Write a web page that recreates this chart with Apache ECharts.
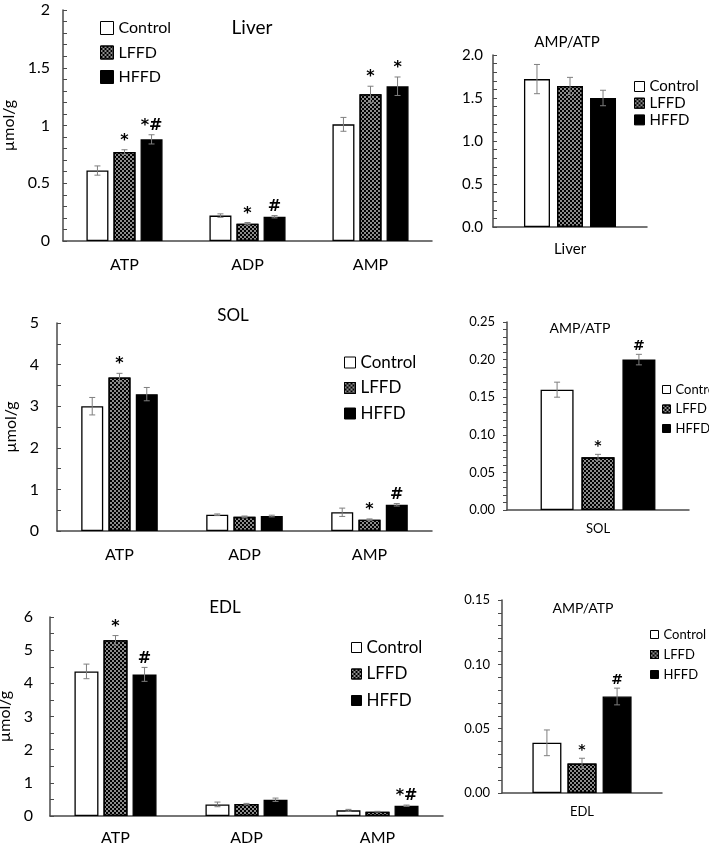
<!DOCTYPE html>
<html>
<head>
<meta charset="utf-8">
<script src="https://cdn.jsdelivr.net/npm/echarts@6.0.0/dist/echarts.min.js"></script>
<style>
html, body { margin: 0; padding: 0; background: #fff; }
#chart { width: 709px; height: 848px; }
</style>
</head>
<body>
<div id="chart"></div>
<script>
var groups = ['Control', 'LFFD', 'HFFD'];
var metabolites = ['ATP', 'ADP', 'AMP'];

// Liver (umol/g)
var liverControl = [0.61, 0.22, 1.01];
var liverControlErr = [0.04, 0.015, 0.06];
var liverLFFD = [0.77, 0.15, 1.27];
var liverLFFDErr = [0.02, 0.01, 0.07];
var liverHFFD = [0.88, 0.21, 1.34];
var liverHFFDErr = [0.04, 0.01, 0.08];
var liverLFFDMarks = ['*', '*', '*'];
var liverHFFDMarks = ['*#', '#', '*'];
// Liver AMP/ATP, order Control, LFFD, HFFD
var liverRatio = [1.72, 1.64, 1.50];
var liverRatioErr = [0.17, 0.10, 0.09];
var liverRatioMarks = ['', '', ''];

// SOL
var solControl = [3.00, 0.39, 0.45];
var solControlErr = [0.21, 0.02, 0.10];
var solLFFD = [3.69, 0.34, 0.27];
var solLFFDErr = [0.10, 0.02, 0.02];
var solHFFD = [3.29, 0.36, 0.63];
var solHFFDErr = [0.16, 0.02, 0.03];
var solLFFDMarks = ['*', '', '*'];
var solHFFDMarks = ['', '', '#'];
var solRatio = [0.16, 0.07, 0.20];
var solRatioErr = [0.01, 0.004, 0.007];
var solRatioMarks = ['', '*', '#'];

// EDL
var edlControl = [4.36, 0.35, 0.17];
var edlControlErr = [0.22, 0.07, 0.03];
var edlLFFD = [5.30, 0.36, 0.13];
var edlLFFDErr = [0.14, 0.02, 0.01];
var edlHFFD = [4.27, 0.49, 0.31];
var edlHFFDErr = [0.21, 0.05, 0.02];
var edlLFFDMarks = ['*', '', ''];
var edlHFFDMarks = ['#', '', '*#'];
var edlRatio = [0.039, 0.023, 0.075];
var edlRatioErr = [0.010, 0.004, 0.0065];
var edlRatioMarks = ['', '*', '#'];

var FONT = 'Lato, "Open Sans", sans-serif';
var MARK_FONT = '"DejaVu Sans", sans-serif';
var AXIS_COLOR = '#4a4a4a';
var noMarks = ['', '', ''];

var barStyles = [
	{ color: '#fff', borderColor: '#000', borderWidth: 1.3 },
	{ color: '#8c8c8c', borderColor: '#000', borderWidth: 1.3,
	  decal: { symbol: 'rect', symbolSize: 1, color: '#000', dashArrayX: [[2, 2], [0, 2, 2, 0]], dashArrayY: [2, 0] } },
	{ color: '#000', borderColor: '#000', borderWidth: 1.3 }
];

// one entry per panel: layout + which data goes in
var panels = [
	{ grid: { left: 63, top: 10, width: 369, height: 231 }, cats: metabolites,
	  vals: [liverControl, liverLFFD, liverHFFD], errs: [liverControlErr, liverLFFDErr, liverHFFDErr],
	  marks: [noMarks, liverLFFDMarks, liverHFFDMarks],
	  max: 2, interval: 0.5, minor: 5, tickInside: true, fs: 16, labelMargin: 13, catMargin: 16, digits: null,
	  barWidth: 22, barGap: '23%', markSize: 16, yName: 'µmol/g', nameGap: 38,
	  title: { text: 'Liver', x: 252, y: 18, size: 19 },
	  legend: { left: 100, top: 20, box: 13, size: 16, gap: 8.5 } },
	{ grid: { left: 493, top: 55, width: 154, height: 172 }, cats: ['Liver'],
	  vals: [[liverRatio[0]], [liverRatio[1]], [liverRatio[2]]],
	  errs: [[liverRatioErr[0]], [liverRatioErr[1]], [liverRatioErr[2]]],
	  marks: [[liverRatioMarks[0]], [liverRatioMarks[1]], [liverRatioMarks[2]]],
	  max: 2, interval: 0.5, minor: 5, tickInside: true, fs: 15, labelMargin: 10, catMargin: 15, digits: 1,
	  barWidth: 26, barGap: '27%', markSize: 15,
	  title: { text: 'AMP/ATP', x: 567, y: 35, size: 15 },
	  legend: { left: 634, top: 79, box: 10, size: 15, gap: 1.7 } },
	{ grid: { left: 57, top: 323, width: 375, height: 208 }, cats: metabolites,
	  vals: [solControl, solLFFD, solHFFD], errs: [solControlErr, solLFFDErr, solHFFDErr],
	  marks: [noMarks, solLFFDMarks, solHFFDMarks],
	  max: 5, interval: 1, minor: 2, tickInside: true, fs: 16, labelMargin: 18, catMargin: 16, digits: null,
	  barWidth: 22, barGap: '24%', markSize: 16, yName: 'µmol/g', nameGap: 34,
	  title: { text: 'SOL', x: 233, y: 307, size: 17 },
	  legend: { left: 344, top: 354, box: 11, size: 17, gap: 8.5 } },
	{ grid: { left: 507, top: 322, width: 182, height: 188 }, cats: ['SOL'],
	  vals: [[solRatio[0]], [solRatio[1]], [solRatio[2]]],
	  errs: [[solRatioErr[0]], [solRatioErr[1]], [solRatioErr[2]]],
	  marks: [[solRatioMarks[0]], [solRatioMarks[1]], [solRatioMarks[2]]],
	  max: 0.25, interval: 0.05, minor: 5, tickInside: false, fs: 13, labelMargin: 12, catMargin: 12, digits: 2,
	  barWidth: 33, barGap: '24%', markSize: 14,
	  title: { text: 'AMP/ATP', x: 580, y: 321, size: 14 },
	  legend: { left: 662, top: 383, box: 8, size: 13, gap: 6.5 } },
	{ grid: { left: 50, top: 617, width: 393, height: 199 }, cats: metabolites,
	  vals: [edlControl, edlLFFD, edlHFFD], errs: [edlControlErr, edlLFFDErr, edlHFFDErr],
	  marks: [noMarks, edlLFFDMarks, edlHFFDMarks],
	  max: 6, interval: 1, minor: 2, tickInside: true, fs: 16, labelMargin: 17, catMargin: 14, digits: null,
	  barWidth: 24, barGap: '21%', markSize: 16, yName: 'µmol/g', nameGap: 29,
	  title: { text: 'EDL', x: 225, y: 599, size: 17 },
	  legend: { left: 351, top: 639, box: 10, size: 17, gap: 9.5 } },
	{ grid: { left: 502, top: 600, width: 160, height: 193 }, cats: ['EDL'],
	  vals: [[edlRatio[0]], [edlRatio[1]], [edlRatio[2]]],
	  errs: [[edlRatioErr[0]], [edlRatioErr[1]], [edlRatioErr[2]]],
	  marks: [[edlRatioMarks[0]], [edlRatioMarks[1]], [edlRatioMarks[2]]],
	  max: 0.15, interval: 0.05, minor: 5, tickInside: false, fs: 13, labelMargin: 12, catMargin: 12, digits: 2,
	  barWidth: 29, barGap: '21%', markSize: 14,
	  title: { text: 'AMP/ATP', x: 583, y: 601, size: 14 },
	  legend: { left: 650, top: 628, box: 8, size: 13, gap: 7 } }
];

function makeErrRender(gi, bw, gap, marks, fs) {
	return function (params, api) {
		var cat = api.value(0), v = api.value(1), e = api.value(2);
		var dx = null;
		if (api.barLayout) {
			var lay = api.barLayout({ barWidth: bw, barGap: gap, count: 3 });
			if (lay && lay[gi]) dx = lay[gi].offsetCenter;
		}
		if (dx == null) dx = (gi - 1) * bw * (1 + parseFloat(gap) / 100);
		var hi = api.coord([cat, v + e]), lo = api.coord([cat, v - e]);
		var x = hi[0] + dx, cap = 3;
		var ls = { stroke: '#7f7f7f', lineWidth: 1 };
		var children = [
			{ type: 'line', shape: { x1: x, y1: hi[1], x2: x, y2: lo[1] }, style: ls },
			{ type: 'line', shape: { x1: x - cap, y1: hi[1], x2: x + cap, y2: hi[1] }, style: ls },
			{ type: 'line', shape: { x1: x - cap, y1: lo[1], x2: x + cap, y2: lo[1] }, style: ls }
		];
		var m = marks[params.dataIndex];
		if (m) {
			children.push({ type: 'text', x: x, y: hi[1] - 1,
				style: { text: m, align: 'center', verticalAlign: 'bottom', fontSize: fs, fontFamily: MARK_FONT, fontWeight: 'bold', fill: '#000' } });
		}
		return { type: 'group', children: children };
	};
}

var grids = [], xAxes = [], yAxes = [], series = [], titles = [], legends = [];
panels.forEach(function (p, pi) {
	grids.push({ left: p.grid.left, top: p.grid.top, width: p.grid.width, height: p.grid.height, outerBoundsMode: 'none' });
	xAxes.push({
		type: 'category', gridIndex: pi, data: p.cats,
		axisLine: { lineStyle: { color: AXIS_COLOR, width: 1.5 } },
		axisTick: { show: false },
		axisLabel: { fontSize: p.fs, margin: p.catMargin, color: '#000', fontFamily: FONT }
	});
	var digits = p.digits;
	yAxes.push({
		type: 'value', gridIndex: pi, min: 0, max: p.max, interval: p.interval,
		axisLine: { show: true, lineStyle: { color: AXIS_COLOR, width: 1.5 } },
		axisTick: { show: true, inside: p.tickInside, length: 4, lineStyle: { color: AXIS_COLOR } },
		minorTick: { show: true, splitNumber: p.minor, length: 4, lineStyle: { color: AXIS_COLOR } },
		splitLine: { show: false },
		axisLabel: { fontSize: p.fs, margin: p.labelMargin, color: '#000', fontFamily: FONT,
			formatter: function (v) { return digits == null ? String(+v.toFixed(2)) : v.toFixed(digits); } },
		name: p.yName || '', nameLocation: 'middle', nameGap: p.nameGap || 30,
		nameTextStyle: { fontSize: 16, color: '#000', fontFamily: FONT }
	});
	for (var gi = 0; gi < 3; gi++) {
		series.push({
			type: 'bar', name: groups[gi], xAxisIndex: pi, yAxisIndex: pi,
			data: p.vals[gi], barWidth: p.barWidth, barGap: p.barGap,
			itemStyle: barStyles[gi], z: 2
		});
		series.push({
			type: 'custom', name: 'err-' + pi + '-' + gi, xAxisIndex: pi, yAxisIndex: pi, z: 5, silent: true,
			data: p.vals[gi].map(function (v, i) { return [i, v, p.errs[gi][i]]; }),
			renderItem: makeErrRender(gi, p.barWidth, p.barGap, p.marks[gi], p.markSize)
		});
	}
	titles.push({
		text: p.title.text, left: p.title.x, top: p.title.y, textAlign: 'center', padding: 0,
		textStyle: { fontSize: p.title.size, fontWeight: 'normal', color: '#000', fontFamily: FONT }
	});
	legends.push({
		orient: 'vertical', left: p.legend.left, top: p.legend.top, padding: 0,
		itemWidth: p.legend.box, itemHeight: p.legend.box, itemGap: p.legend.gap,
		icon: 'rect', selectedMode: false, data: groups,
		itemStyle: { borderColor: '#000', borderWidth: 1 },
		textStyle: { fontSize: p.legend.size, lineHeight: p.legend.size, color: '#000', fontFamily: FONT }
	});
});

var myChart = echarts.init(document.getElementById('chart'));
myChart.setOption({
	animation: false,
	backgroundColor: '#fff',
	title: titles,
	legend: legends,
	grid: grids,
	xAxis: xAxes,
	yAxis: yAxes,
	series: series
});
</script>
</body>
</html>
